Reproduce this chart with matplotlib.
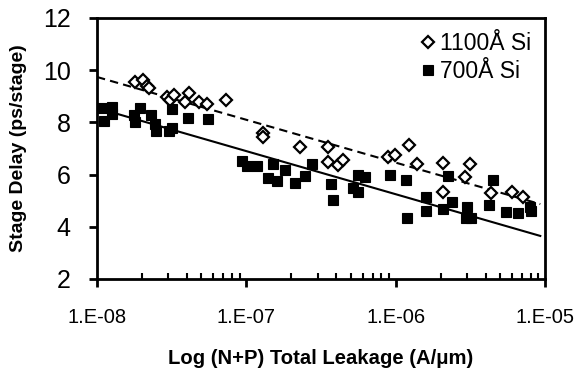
import numpy as np
import matplotlib
matplotlib.use("Agg")
import matplotlib.pyplot as plt
from matplotlib.ticker import FixedLocator, FuncFormatter, LogLocator, NullFormatter

plt.rcParams['font.family'] = ['Liberation Sans', 'DejaVu Sans']

# 1100A Si (open diamonds)
leak_1100 = [1.80e-8, 2.03e-8, 2.16e-8, 2.23e-8, 2.94e-8, 3.08e-8, 3.28e-8, 3.88e-8,
             4.13e-8, 4.82e-8, 5.46e-8, 7.31e-8, 1.29e-7, 1.29e-7, 2.29e-7, 3.53e-7,
             3.53e-7, 4.11e-7, 4.44e-7, 8.89e-7, 9.91e-7, 1.23e-6, 1.39e-6, 2.08e-6,
             2.92e-6, 3.15e-6, 2.08e-6, 4.35e-6, 6.03e-6, 7.13e-6]
delay_1100 = [9.55, 9.62, 9.39, 9.32, 8.97, 8.86, 9.05, 8.78,
              9.13, 8.78, 8.70, 8.86, 7.59, 7.44, 7.06, 7.06,
              6.48, 6.37, 6.56, 6.67, 6.75, 7.13, 6.41, 6.44,
              5.91, 6.41, 5.33, 5.30, 5.33, 5.14]

# 700A Si (filled squares)
leak_700 = [1.08e-8, 1.11e-8, 1.26e-8, 1.26e-8, 1.77e-8, 1.80e-8, 1.94e-8, 2.30e-8,
            2.44e-8, 2.48e-8, 3.04e-8, 3.18e-8, 3.18e-8, 4.07e-8, 5.54e-8, 9.36e-8,
            1.01e-7, 1.18e-7, 1.51e-7, 1.40e-7, 1.61e-7, 1.82e-7, 2.12e-7, 2.47e-7,
            2.75e-7, 3.69e-7, 3.81e-7, 5.18e-7, 5.60e-7, 6.24e-7, 5.60e-7, 9.17e-7,
            1.17e-6, 1.19e-6, 1.60e-6, 1.60e-6, 2.08e-6, 2.39e-6, 3.01e-6, 2.96e-6,
            3.20e-6, 4.22e-6, 4.49e-6, 5.49e-6, 6.60e-6, 7.94e-6, 8.07e-6, 2.24e-6]
delay_700 = [8.55, 8.05, 8.59, 8.32, 8.28, 8.02, 8.55, 8.28,
             7.94, 7.67, 7.67, 7.79, 8.51, 8.17, 8.13, 6.52,
             6.33, 6.33, 6.41, 5.87, 5.75, 6.18, 5.68, 5.95,
             6.41, 5.64, 5.03, 5.49, 5.98, 5.91, 5.33, 5.98,
             5.79, 4.34, 5.14, 4.61, 4.68, 4.95, 4.76, 4.34,
             4.34, 4.84, 5.79, 4.57, 4.53, 4.76, 4.61, 5.95]

# log trendlines (end values)
trend_x = [1e-8, 9.3e-6]
trend_1100 = [9.74, 4.87]
trend_700 = [8.55, 3.65]

fig = plt.figure(figsize=(5.82, 3.71), dpi=100)
ax = fig.add_axes([0.1667, 0.248, 0.7697, 0.7035])

ax.plot(leak_1100, delay_1100, 'D', ms=6.5, mfc='white', mec='black', mew=1.6,
        label='1100Å Si', zorder=3)
ax.plot(leak_700, delay_700, 's', ms=7.5, mfc='black', mec='black', mew=0.8,
        label='700Å Si', zorder=3)

ax.plot(trend_x, trend_1100, color='black', lw=1.5, ls=(0, (4, 2.5)), zorder=2)
ax.plot(trend_x, trend_700, color='black', lw=1.5, zorder=2)

ax.set_xscale('log')
ax.set_xlim(1e-8, 1e-5)
ax.set_ylim(2, 12)
ax.yaxis.set_major_locator(FixedLocator([2, 4, 6, 8, 10, 12]))
ax.xaxis.set_major_locator(FixedLocator([1e-8, 1e-7, 1e-6, 1e-5]))
ax.xaxis.set_major_formatter(FuncFormatter(lambda v, pos: "1.E-%02d" % round(-np.log10(v))))
ax.xaxis.set_minor_locator(LogLocator(base=10, subs=np.arange(2, 10)))
ax.xaxis.set_minor_formatter(NullFormatter())

for s in ax.spines.values():
    s.set_linewidth(2)
ax.tick_params(axis='both', which='major', direction='out', length=6, width=2)
ax.tick_params(axis='x', which='major', labelsize=14.5, pad=15)
ax.tick_params(axis='y', which='major', labelsize=18, pad=13)
ax.tick_params(axis='x', which='minor', direction='in', length=4, width=1.5)

ax.set_xlabel('Log (N+P) Total Leakage (A/μm)', fontsize=14.6, fontweight='bold', labelpad=16)
ax.set_ylabel('Stage Delay (ps/stage)', fontsize=14, fontweight='bold', labelpad=11)

ax.legend(loc='upper right', frameon=False, fontsize=16.5, handletextpad=0.05,
          handlelength=1.0, borderaxespad=0.2, labelspacing=0.25)

fig.savefig('out.png', dpi=100)
